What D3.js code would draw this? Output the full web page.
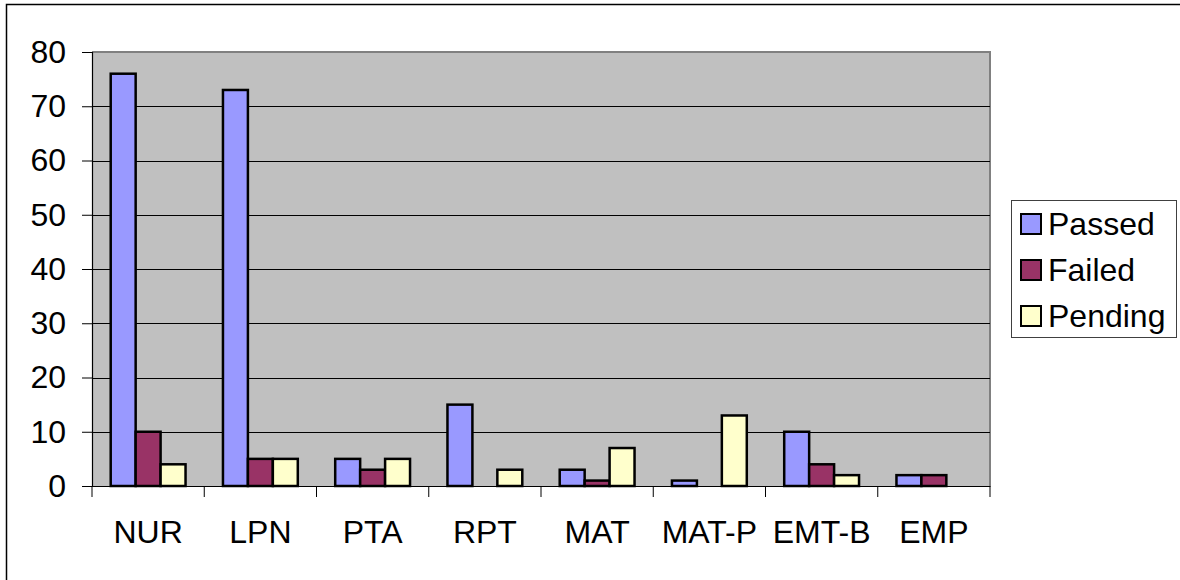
<!DOCTYPE html>
<html>
<head>
<meta charset="utf-8">
<script src="https://cdn.jsdelivr.net/npm/d3@7"></script>
<style>
  html, body { margin: 0; padding: 0; background: #fff; }
  svg { display: block; font-family: "Liberation Sans", Arial, sans-serif; }
</style>
</head>
<body>
<svg id="chart" width="1180" height="580"></svg>
<script>
const categories = ["NUR", "LPN", "PTA", "RPT", "MAT", "MAT-P", "EMT-B", "EMP"];
const seriesNames = ["Passed", "Failed", "Pending"];
const passed  = [76, 73, 5, 15, 3, 1, 10, 2];
const failed  = [10, 5, 3, 0, 1, 0, 4, 2];
const pending = [4, 5, 5, 3, 7, 13, 2, 0];
const yTicks = [0, 10, 20, 30, 40, 50, 60, 70, 80];
const colors = ["#9999FF", "#993366", "#FFFFCC"];

const seriesValues = [passed, failed, pending];
const FS = 32;

const svg = d3.select("#chart");
const plot = { left: 92, top: 52, right: 990, bottom: 486 };

// outer chart border
svg.append("rect")
  .attr("x", 6.5).attr("y", 4.5)
  .attr("width", 1200).attr("height", 600)
  .attr("fill", "#fff").attr("stroke", "#000").attr("stroke-width", 1.5);

const x0 = d3.scaleBand().domain(categories).range([plot.left, plot.right]).paddingInner(0).paddingOuter(0);
const bw = x0.bandwidth();
const barW = bw / 4.5;
const x1 = d3.scaleBand().domain(seriesNames).range([0, barW * 3]);
const y = d3.scaleLinear().domain([0, 80]).range([plot.bottom, plot.top]);

// plot background
svg.append("rect")
  .attr("x", plot.left).attr("y", plot.top)
  .attr("width", plot.right - plot.left).attr("height", plot.bottom - plot.top)
  .attr("fill", "#C0C0C0");

// plot border top & right (gray)
svg.append("path")
  .attr("d", `M${plot.left},${plot.top} H${plot.right} V${plot.bottom}`)
  .attr("fill", "none").attr("stroke", "#808080").attr("stroke-width", 2);

// gridlines
svg.append("g").selectAll("line")
  .data(yTicks.filter(d => d > 0 && d < 80))
  .join("line")
  .attr("x1", plot.left).attr("x2", plot.right)
  .attr("y1", d => Math.round(y(d)) + 0.5).attr("y2", d => Math.round(y(d)) + 0.5)
  .attr("stroke", "#000").attr("stroke-width", 1);

// bars
const groups = svg.append("g").selectAll("g")
  .data(categories)
  .join("g")
  .attr("transform", d => `translate(${x0(d) + (bw - barW * 3) / 2},0)`);

groups.selectAll("rect")
  .data((c, i) => seriesNames.map((s, j) => ({ s, v: seriesValues[j][i], j })))
  .join("rect")
  .attr("x", d => x1(d.s))
  .attr("y", d => y(d.v))
  .attr("width", barW)
  .attr("height", d => y(0) - y(d.v))
  .attr("fill", d => colors[d.j])
  .attr("stroke", "#000")
  .attr("stroke-width", 2.5);

// y axis
const yAxis = d3.axisLeft(y).tickValues(yTicks).tickSize(10).tickPadding(16);
const ya = svg.append("g").attr("transform", `translate(${plot.left},0)`).call(yAxis);
ya.select(".domain").attr("stroke", "#000").attr("stroke-width", 1.2);
ya.selectAll(".tick line").attr("stroke", "#000");
ya.selectAll(".tick text").attr("font-size", FS).attr("fill", "#000")
  .attr("font-family", "Liberation Sans, Arial, sans-serif");

// x axis
const xAxis = d3.axisBottom(x0).tickSize(0).tickPadding(34);
const xa = svg.append("g").attr("transform", `translate(0,${plot.bottom})`).call(xAxis);
xa.select(".domain").attr("stroke", "#000").attr("stroke-width", 1.2);
xa.selectAll(".tick text").attr("font-size", FS).attr("fill", "#000")
  .attr("font-family", "Liberation Sans, Arial, sans-serif");
// category boundary ticks
xa.append("g").selectAll("line")
  .data(categories.concat(["_end"]))
  .join("line")
  .attr("x1", (d, i) => plot.left + i * bw).attr("x2", (d, i) => plot.left + i * bw)
  .attr("y1", 0).attr("y2", 11)
  .attr("stroke", "#000").attr("stroke-width", 1);

// legend
const lg = svg.append("g");
lg.append("rect")
  .attr("x", 1011.5).attr("y", 200.5).attr("width", 165).attr("height", 137)
  .attr("fill", "#fff").attr("stroke", "#404040").attr("stroke-width", 1);
const items = lg.selectAll("g.item").data(seriesNames).join("g").attr("class", "item")
  .attr("transform", (d, i) => `translate(0,${i * 46})`);
items.append("rect")
  .attr("x", 1021).attr("y", 214).attr("width", 20).attr("height", 20)
  .attr("fill", (d, i) => colors[i]).attr("stroke", "#000").attr("stroke-width", 2);
items.append("text")
  .attr("x", 1048).attr("y", 235)
  .attr("font-size", FS).attr("fill", "#000")
  .text(d => d);
</script>
</body>
</html>
